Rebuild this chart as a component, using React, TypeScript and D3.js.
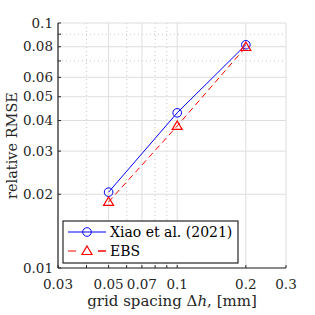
import React, { useEffect, useRef } from 'react';
import * as d3 from 'd3';

// grid spacing [mm]
const spacing = [0.05, 0.1, 0.2];
// relative RMSE, Xiao et al. (2021)
const xiao = [0.0204, 0.0430, 0.0815];
// relative RMSE, EBS
const ebs = [0.0186, 0.0380, 0.0798];

const xTicks = [0.03, 0.05, 0.07, 0.1, 0.2, 0.3];
const xMinor = [0.04, 0.06, 0.08, 0.09];
const yTicks = [0.01, 0.02, 0.03, 0.04, 0.05, 0.06, 0.08, 0.1];
const yMinor = [0.07, 0.09];

const FONT = '"DejaVu Serif", serif';

const App = () => {
  const ref = useRef<SVGSVGElement | null>(null);

  useEffect(() => {
    if (!ref.current) return;
    const svg = d3.select(ref.current);
    svg.selectAll('*').remove();

    const margin = { top: 23, right: 29, bottom: 47, left: 58 };
    const width = 315;
    const height = 315;
    const innerW = width - margin.left - margin.right;
    const innerH = height - margin.top - margin.bottom;

    const x = d3.scaleLog().domain([0.03, 0.3]).range([0, innerW]);
    const y = d3.scaleLog().domain([0.01, 0.1]).range([innerH, 0]);

    const g = svg.append('g').attr('transform', `translate(${margin.left},${margin.top})`);

    // minor grid (dotted)
    g.selectAll('.xminor').data(xMinor).enter().append('line')
      .attr('x1', d => x(d)).attr('x2', d => x(d)).attr('y1', 0).attr('y2', innerH)
      .attr('stroke', '#c8c8c8').attr('stroke-width', 1).attr('stroke-dasharray', '1,3');
    g.selectAll('.yminor').data(yMinor).enter().append('line')
      .attr('y1', d => y(d)).attr('y2', d => y(d)).attr('x1', 0).attr('x2', innerW)
      .attr('stroke', '#c8c8c8').attr('stroke-width', 1).attr('stroke-dasharray', '1,3');

    // major grid
    g.selectAll('.xgrid').data(xTicks).enter().append('line')
      .attr('x1', d => x(d)).attr('x2', d => x(d)).attr('y1', 0).attr('y2', innerH)
      .attr('stroke', '#dedede').attr('stroke-width', 1);
    g.selectAll('.ygrid').data(yTicks).enter().append('line')
      .attr('y1', d => y(d)).attr('y2', d => y(d)).attr('x1', 0).attr('x2', innerW)
      .attr('stroke', '#dedede').attr('stroke-width', 1);

    // axes lines
    g.append('line').attr('x1', 0).attr('x2', innerW).attr('y1', innerH).attr('y2', innerH)
      .attr('stroke', '#262626').attr('stroke-width', 1.2);
    g.append('line').attr('x1', 0).attr('x2', 0).attr('y1', 0).attr('y2', innerH)
      .attr('stroke', '#262626').attr('stroke-width', 1.2);

    // inward ticks
    [...xTicks, ...xMinor].forEach(v => {
      g.append('line').attr('x1', x(v)).attr('x2', x(v)).attr('y1', innerH).attr('y2', innerH - 3)
        .attr('stroke', '#262626');
    });
    [...yTicks, ...yMinor].forEach(v => {
      g.append('line').attr('y1', y(v)).attr('y2', y(v)).attr('x1', 0).attr('x2', 3)
        .attr('stroke', '#262626');
    });

    // tick labels
    g.selectAll('.xlab').data(xTicks).enter().append('text')
      .attr('x', d => x(d)).attr('y', innerH + 21)
      .attr('text-anchor', 'middle').style('font-family', FONT).attr('font-size', 13.5)
      .attr('fill', '#262626')
      .text(d => String(d));
    g.selectAll('.ylab').data(yTicks).enter().append('text')
      .attr('x', -5).attr('y', d => y(d)).attr('dy', '0.35em')
      .attr('text-anchor', 'end').style('font-family', FONT).attr('font-size', 13.5)
      .attr('fill', '#262626')
      .text(d => String(d));

    // axis titles
    const xt = svg.append('text')
      .attr('x', margin.left + innerW / 2).attr('y', 306)
      .attr('text-anchor', 'middle').style('font-family', FONT).attr('font-size', 15)
      .attr('fill', '#262626');
    xt.append('tspan').text('grid spacing \u0394');
    xt.append('tspan').attr('font-style', 'italic').text('h');
    xt.append('tspan').text(', [mm]');

    svg.append('text')
      .attr('transform', `translate(17,${margin.top + innerH / 2}) rotate(-90)`)
      .attr('text-anchor', 'middle').style('font-family', FONT).attr('font-size', 14.5)
      .attr('fill', '#262626')
      .text('relative RMSE');

    const line = d3.line<number>().x((d, i) => x(spacing[i])).y(d => y(d));

    // Xiao et al.
    g.append('path').datum(xiao).attr('d', line).attr('fill', 'none')
      .attr('stroke', '#0000ff').attr('stroke-width', 1);
    g.selectAll('.circ').data(xiao).enter().append('circle')
      .attr('cx', (d, i) => x(spacing[i])).attr('cy', d => y(d)).attr('r', 4.3)
      .attr('fill', 'none').attr('stroke', '#0000ff').attr('stroke-width', 1);

    // EBS
    g.append('path').datum(ebs).attr('d', line).attr('fill', 'none')
      .attr('stroke', '#ff0000').attr('stroke-width', 1).attr('stroke-dasharray', '6,4');
    const tri = (cx: number, cy: number) => {
      const s = 5;
      return `M${cx},${cy - s}L${cx + s},${cy + s * 0.7}L${cx - s},${cy + s * 0.7}Z`;
    };
    g.selectAll('.tri').data(ebs).enter().append('path')
      .attr('d', (d, i) => tri(x(spacing[i]), y(d)))
      .attr('fill', 'none').attr('stroke', '#ff0000').attr('stroke-width', 1.2);

    // legend
    const lg = svg.append('g').attr('transform', 'translate(63,221)');
    lg.append('rect').attr('width', 175).attr('height', 42)
      .attr('fill', '#fff').attr('stroke', '#262626').attr('stroke-width', 1.2);
    const ly1 = 11, ly2 = 30;
    lg.append('line').attr('x1', 5).attr('x2', 43).attr('y1', ly1).attr('y2', ly1)
      .attr('stroke', '#0000ff');
    lg.append('circle').attr('cx', 24).attr('cy', ly1).attr('r', 4.3)
      .attr('fill', 'none').attr('stroke', '#0000ff');
    lg.append('text').attr('x', 47).attr('y', ly1).attr('dy', '0.35em')
      .style('font-family', FONT).attr('font-size', 14).attr('fill', '#000')
      .text('Xiao et al. (2021)');
    lg.append('line').attr('x1', 5).attr('x2', 43).attr('y1', ly2).attr('y2', ly2)
      .attr('stroke', '#ff0000').attr('stroke-dasharray', '8,22');
    lg.append('line').attr('x1', 35).attr('x2', 43).attr('y1', ly2).attr('y2', ly2)
      .attr('stroke', '#ff0000');
    lg.append('path').attr('d', tri(24, ly2)).attr('fill', 'none')
      .attr('stroke', '#ff0000').attr('stroke-width', 1.2);
    lg.append('text').attr('x', 47).attr('y', ly2).attr('dy', '0.35em')
      .style('font-family', FONT).attr('font-size', 14).attr('fill', '#000')
      .text('EBS');
  }, []);

  return (
    <svg ref={ref} width={315} height={315}
      style={{ position: 'absolute', left: 0, top: 0, background: '#fff' }} />
  );
};

export default App;
